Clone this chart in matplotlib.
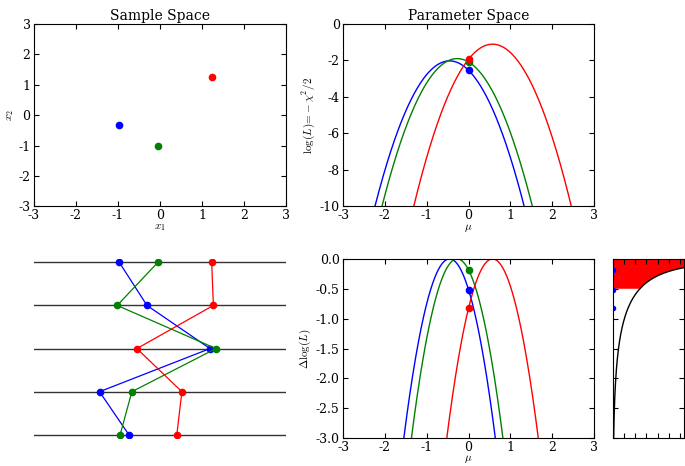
import numpy as np
import matplotlib
matplotlib.use('Agg')
import matplotlib.pyplot as plt

plt.rcParams['font.family'] = 'DejaVu Serif'
plt.rcParams['mathtext.fontset'] = 'cm'
plt.rcParams['axes.unicode_minus'] = False
plt.rcParams['xtick.direction'] = 'in'
plt.rcParams['ytick.direction'] = 'in'
plt.rcParams['xtick.top'] = True
plt.rcParams['ytick.right'] = True
plt.rcParams['xtick.major.size'] = 3.5
plt.rcParams['ytick.major.size'] = 3.5
plt.rcParams['xtick.major.pad'] = 2
plt.rcParams['ytick.major.pad'] = 2.5
plt.rcParams['font.size'] = 9

# Échantillons : 5 tirages par jeu de données
x_red = [1.23, 1.27, -0.55, 0.52, 0.40]
x_blue = [-0.97, -0.31, 1.19, -1.44, -0.74]
x_green = [-0.05, -1.02, 1.33, -0.67, -0.95]

datasets = [(x_blue, 'b'), (x_green, 'g'), (x_red, 'r')]


def log_like(x, mu):
    """log(L) = -chi^2/2 pour une gaussienne de variance 1"""
    x = np.asarray(x)
    return -0.5 * np.sum((x[:, None] - mu[None, :])**2, axis=0)


def delta_pdf(d):
    """densité de Delta log(L) = -chi2_1 / 2"""
    c = -2 * d
    return 2 * c**-0.5 * np.exp(-c / 2) / np.sqrt(2 * np.pi)


mu = np.linspace(-3, 3, 601)
mu0 = np.array([0.0])

fig = plt.figure(figsize=(6.85, 4.66), dpi=100)

# 1. Espace des échantillons
ax = fig.add_axes([0.0496, 0.557, 0.368, 0.3915])
for x, c in datasets:
    ax.plot(x[0], x[1], 'o', color=c, markersize=4.5, markeredgecolor=c)
ax.set_xlim(-3, 3)
ax.set_ylim(-3, 3)
ax.set_xlabel('$x_1$', fontsize=8, labelpad=0)
ax.set_ylabel('$x_2$', fontsize=8, labelpad=2)
ax.set_title('Sample Space', fontsize=10, pad=3)

# 2. Espace des paramètres
ax = fig.add_axes([0.501, 0.557, 0.366, 0.3915])
for x, c in datasets:
    ax.plot(mu, log_like(x, mu), '-', color=c, lw=1)
for x, c in datasets:
    ax.plot(0, log_like(x, mu0)[0], 'o', color=c, markersize=4.5, markeredgecolor=c)
ax.set_xlim(-3, 3)
ax.set_ylim(-10, 0)
ax.set_xlabel(r'$\mu$', fontsize=8, labelpad=0)
ax.set_ylabel(r'$\log(L)\!=\!-\chi^2/2$', fontsize=8, labelpad=2)
ax.set_title('Parameter Space', fontsize=10, pad=3)

# 3. Tirages sur chaque dimension
bot, hgt = 0.0595, 0.385
ax = fig.add_axes([0.0496, bot, 0.368, hgt])
n = len(x_red)
levels = np.arange(n)[::-1]
for i in levels:
    ax.axhline(i, color='k', lw=1, alpha=0.8)
for x, c in datasets:
    ax.plot(x, levels, '-o', color=c, lw=0.9, markersize=4.5, markeredgecolor=c)
ax.set_xlim(-3, 3)
ax.set_ylim(-0.08, n - 1 + 0.08)
ax.axis('off')

# 4. Delta log(L)
ax = fig.add_axes([0.501, bot, 0.366, hgt])
for x, c in datasets:
    ll = log_like(x, mu)
    ax.plot(mu, ll - ll.max(), '-', color=c, lw=1)
dl0 = []
for x, c in datasets:
    ll = log_like(x, mu)
    d0 = log_like(x, mu0)[0] - ll.max()
    dl0.append(d0)
    ax.plot(0, d0, 'o', color=c, markersize=4.5, markeredgecolor=c)
ax.set_xlim(-3, 3)
ax.set_ylim(-3, 0)
ax.set_xlabel(r'$\mu$', fontsize=8, labelpad=-0.5)
ax.set_ylabel(r'$\Delta\log(L)$', fontsize=8, labelpad=2)

# 5. Distribution de Delta log(L)
ax = fig.add_axes([0.8945, bot, 0.104, hgt])
d = np.linspace(-3, -1e-4, 2000)
p = np.minimum(delta_pdf(d), 3)
d1 = np.linspace(-0.5, 0, 500)
p1 = np.minimum(delta_pdf(np.minimum(d1, -1e-4)), 3)
ax.fill_betweenx(d1, 0, p1, facecolor='r', edgecolor='none')
ax.plot(p, d, 'k-', lw=1)
ax.plot(np.zeros(len(dl0)), dl0, 'o', color='b', markersize=3, markeredgecolor='b')
ax.set_xlim(0, 1.27)
ax.set_ylim(-3, 0)
ax.set_xticks(np.arange(0, 1.27, 0.2))
ax.set_yticks(np.arange(-3, 0.01, 0.5))
ax.set_xticklabels([])
ax.set_yticklabels([])

plt.savefig('out.png', dpi=100)
